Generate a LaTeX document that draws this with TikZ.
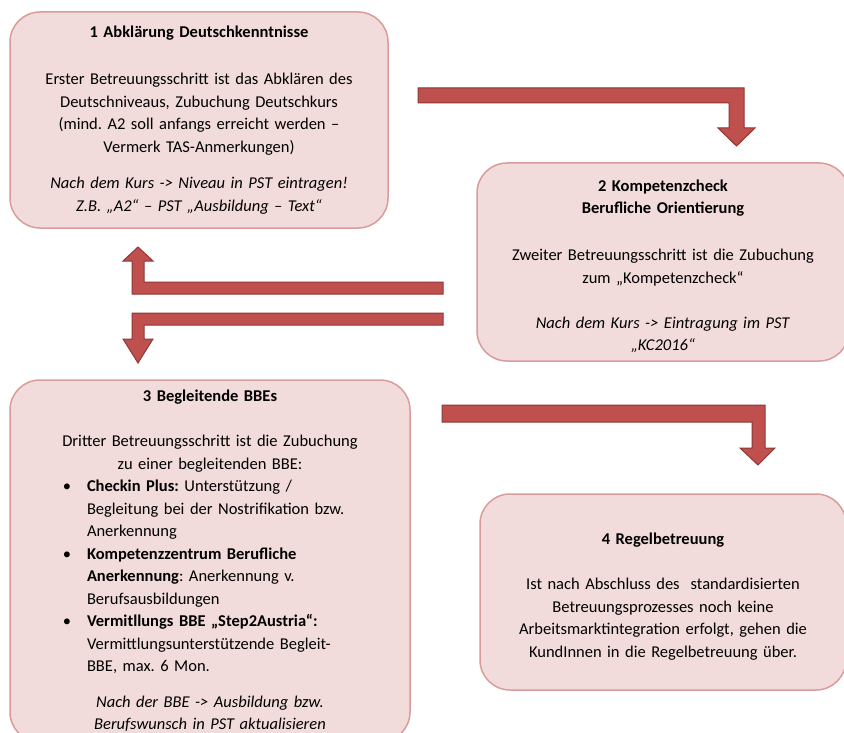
\documentclass[tikz,border=0pt]{standalone}
\usepackage{fontspec}
\setmainfont{Carlito}
\definecolor{boxfill}{HTML}{F2DCDB}
\definecolor{boxline}{HTML}{DA9C9A}
\definecolor{arrowfill}{HTML}{C0504D}
\definecolor{arrowline}{HTML}{8C3836}
\tikzset{
  stepbox/.style={draw=boxline, line width=1.5pt, fill=boxfill, rounded corners=30pt, inner sep=0pt,
    font=\fontsize{16.5}{22.5}\selectfont\frenchspacing},
  bigarrow/.style={fill=arrowfill, draw=arrowline, line width=1pt, line join=miter}
}
\begin{document}
\begin{tikzpicture}[x=1pt,y=-1pt]
  \useasboundingbox[fill=white] (0,0) rectangle (844,733);

  \node[stepbox, minimum width=378pt, minimum height=216pt, text width=370pt, align=center] (deutsch) at (199,120)
    {\textbf{1 Abklärung Deutschkenntnisse}\\[24.5pt]
     Erster Betreuungsschritt ist das Abklären des\\
     Deutschniveaus, Zubuchung Deutschkurs\\
     (mind. A2 soll anfangs erreicht werden –\\
     Vermerk TAS-Anmerkungen)\\[14pt]
     \textit{Nach dem Kurs -> Niveau in PST eintragen!}\\
     \textit{Z.B. „A2“ – PST „Ausbildung – Text“}};

  \node[stepbox, minimum width=372pt, minimum height=198pt, text width=360pt, align=center] (kompetenz) at (663,262)
    {\rule{0pt}{20.5pt}\textbf{2 Kompetenzcheck}\\
     \textbf{Berufliche Orientierung}\\[24.5pt]
     Zweiter Betreuungsschritt ist die Zubuchung\\
     zum „Kompetenzcheck“\\[22.5pt]
     \textit{Nach dem Kurs -> Eintragung im PST}\\
     \textit{„KC2016“}};

  \node[stepbox, minimum width=400pt, minimum height=362pt, text width=350pt] (begleitend) at (210,561)
    {\parindent=0pt
     {\centering\textbf{3 Begleitende BBEs}\\[22.5pt]
      Dritter Betreuungsschritt ist die Zubuchung\\
      zu einer begleitenden BBE:\par}
     \leftskip=52pt \rightskip=0pt plus 1fil
     \noindent\llap{\textbullet\hspace{16pt}}\textbf{Checkin Plus:} Unterstützung /\\
     Begleitung bei der Nostrifikation bzw.\\
     Anerkennung\par
     \noindent\llap{\textbullet\hspace{16pt}}\textbf{Kompetenzzentrum Berufliche}\\
     \textbf{Anerkennung}: Anerkennung v.\\
     Berufsausbildungen\par
     \noindent\llap{\textbullet\hspace{16pt}}\textbf{Vermitllungs BBE „Step2Austria“:}\\
     Vermittlungsunterstützende Begleit-\\
     BBE, max. 6 Mon.\par
     {\vspace{13pt}\centering\itshape Nach der BBE -> Ausbildung bzw.\\
      Berufswunsch in PST aktualisieren\par}};

  \node[stepbox, minimum width=366pt, minimum height=196pt, text width=360pt, align=center] (regel) at (663,592)
    {\rule{0pt}{20.5pt}\textbf{4 Regelbetreuung}\\[22.5pt]
     Ist nach Abschluss des~ standardisierten\\
     Betreuungsprozesses noch keine\\
     Arbeitsmarktintegration erfolgt, gehen die\\
     KundInnen in die Regelbetreuung über.};

  \draw[bigarrow] (418,88) -- (744,88) -- (744,128) -- (755,128) -- (736.5,146)
    -- (718,128) -- (729,128) -- (729,103) -- (418,103) -- cycle;
  \draw[bigarrow] (443,282) -- (144,282) -- (144,261) -- (153,261) -- (138,247)
    -- (123,261) -- (132,261) -- (132,294) -- (443,294) -- cycle;
  \draw[bigarrow] (443,313) -- (443,325) -- (144,325) -- (144,339) -- (153,339)
    -- (138,363) -- (123,339) -- (132,339) -- (132,313) -- cycle;
  \draw[bigarrow] (442,405) -- (765,405) -- (765,448) -- (775,448) -- (758,465)
    -- (740,448) -- (752,448) -- (752,422) -- (442,422) -- cycle;
\end{tikzpicture}
\end{document}
